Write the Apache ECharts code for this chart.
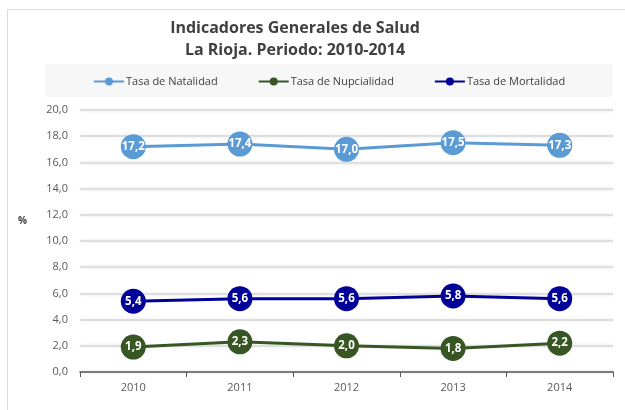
<!DOCTYPE html>
<html>
<head>
<meta charset="utf-8">
<script src="https://cdn.jsdelivr.net/npm/echarts@6/dist/echarts.min.js"></script>
<style>
  html, body { margin: 0; padding: 0; background: #fff; }
  #chart { width: 625px; height: 410px; }
</style>
</head>
<body>
<div id="chart"></div>
<script>
// Indicadores generales de salud, La Rioja 2010-2014
const years = ['2010', '2011', '2012', '2013', '2014'];
const natalidad = [17.2, 17.4, 17.0, 17.5, 17.3];
const nupcialidad = [1.9, 2.3, 2.0, 1.8, 2.2];
const mortalidad = [5.4, 5.6, 5.6, 5.8, 5.6];
const seriesNames = ['Tasa de Natalidad', 'Tasa de Nupcialidad', 'Tasa de Mortalidad'];
const seriesColors = ['#5b9bd5', '#375623', '#000099'];

const FONT = 'Open Sans';
const fmt = v => v.toFixed(1).replace('.', ',');

function lineSeries(name, data, color) {
  return {
    name: name,
    type: 'line',
    data: data,
    symbol: 'circle',
    symbolSize: 25,
    itemStyle: { color: color },
    lineStyle: { color: color, width: 3 },
    label: {
      show: true,
      position: 'inside',
      color: '#fff',
      fontFamily: FONT,
      fontWeight: 'bold',
      fontSize: 11.5,
      formatter: p => fmt(p.value)
    },
    emphasis: { disabled: true },
    z: 3
  };
}

const chart = echarts.init(document.getElementById('chart'), null, { renderer: 'canvas' });
chart.setOption({
  animation: false,
  backgroundColor: '#fff',
  graphic: [
    { type: 'rect', shape: { x: 7.5, y: 9.5, width: 640, height: 420 },
      style: { fill: 'none', stroke: '#d9d9d9', lineWidth: 1 }, z: -10 },
    { type: 'rect', shape: { x: 45, y: 64, width: 568, height: 33 },
      style: { fill: '#f7f7f7' }, z: -5 },
    { type: 'text', left: 18, top: 216,
      style: { text: '%', fill: '#404040', font: 'bold 10px "' + FONT + '"' } }
  ],
  title: {
    text: 'Indicadores Generales de Salud\nLa Rioja. Periodo: 2010-2014',
    left: 290,
    textAlign: 'center',
    top: 12,
    textStyle: {
      fontFamily: FONT,
      fontWeight: 'bold',
      fontSize: 16,
      color: '#404040',
      lineHeight: 22
    }
  },
  legend: {
    data: seriesNames,
    left: 88,
    top: 71,
    itemWidth: 30,
    itemHeight: 10,
    itemGap: 40,
    textStyle: { fontFamily: FONT, fontSize: 11, color: '#404040', padding: [0, 0, 0, -3] },
    selectedMode: false
  },
  grid: { left: 80, right: 12, top: 110, bottom: 38, containLabel: false },
  xAxis: {
    type: 'category',
    data: years,
    boundaryGap: true,
    axisLine: { show: true, lineStyle: { color: '#595959', width: 1.5 } },
    axisTick: { show: true, inside: false, length: 5, lineStyle: { color: '#595959' } },
    axisLabel: { fontFamily: FONT, fontSize: 11, color: '#595959', margin: 10 },
    splitLine: { show: false }
  },
  yAxis: {
    type: 'value',
    min: 0,
    max: 20,
    interval: 2,
    axisLine: { show: false },
    axisTick: { show: false },
    axisLabel: { fontFamily: FONT, fontSize: 11, color: '#595959', margin: 12, formatter: v => fmt(v) },
    splitLine: { lineStyle: { color: '#d9d9d9', width: 1.5, shadowColor: 'rgba(0,0,0,0.15)', shadowBlur: 3 } }
  },
  series: [
    lineSeries(seriesNames[0], natalidad, seriesColors[0]),
    lineSeries(seriesNames[1], nupcialidad, seriesColors[1]),
    lineSeries(seriesNames[2], mortalidad, seriesColors[2])
  ]
});
</script>
</body>
</html>
